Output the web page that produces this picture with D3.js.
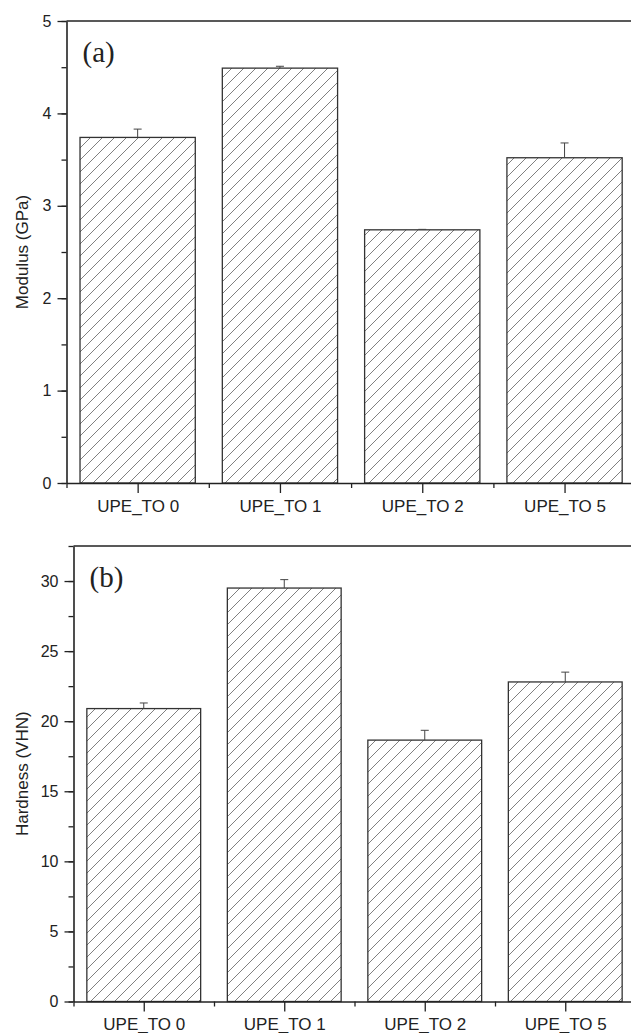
<!DOCTYPE html>
<html>
<head>
<meta charset="utf-8">
<script src="https://cdn.jsdelivr.net/npm/d3@7"></script>
<style>
  body { margin: 0; background: #fff; }
  svg { display: block; }
  .tick text { font-family: "Liberation Sans", Arial, sans-serif; font-size: 16px; fill: #222; }
</style>
</head>
<body>
<div id="chart"></div>
<script>
var samples = ["UPE_TO 0", "UPE_TO 1", "UPE_TO 2", "UPE_TO 5"];
var modulus = [3.74, 4.49, 2.74, 3.52];
var modulusErr = [0.09, 0.02, 0.005, 0.16];
var hardness = [20.9, 29.5, 18.65, 22.8];
var hardnessErr = [0.4, 0.6, 0.7, 0.7];

var width = 631;
var height = 1033;

var svg = d3.select("#chart")
  .append("svg")
  .attr("width", width)
  .attr("height", height);

// hatch pattern "/"
var pat = svg.append("defs").append("pattern")
  .attr("id", "hatch")
  .attr("patternUnits", "userSpaceOnUse")
  .attr("width", 12)
  .attr("height", 12);
pat.append("rect").attr("width", 12).attr("height", 12).attr("fill", "#fff");
pat.append("path")
  .attr("d", "M-3,3 L3,-3 M0,12 L12,0 M9,15 L15,9")
  .attr("stroke", "#808080")
  .attr("stroke-width", 1);

var panels = [
  { values: modulus, errs: modulusErr, label: "(a)", title: "Modulus (GPa)",
    left: 66.5, step: 142.3, top: 21, bottom: 483, ymax: 5, major: 1, minor: 0.5, labelY: 29 },
  { values: hardness, errs: hardnessErr, label: "(b)", title: "Hardness (VHN)",
    left: 73.5, step: 140.5, top: 546, bottom: 1001.5, ymax: 32.5, major: 5, minor: 2.5, labelY: 28 }
];

panels.forEach(drawPanel);

function drawPanel(p) {
  var g = svg.append("g");

  var x = d3.scaleLinear()
    .domain([0.5, 4.5])
    .range([p.left, p.left + 4 * p.step]);

  var y = d3.scaleLinear()
    .domain([0, p.ymax])
    .range([p.bottom, p.top]);

  var bw = p.step * 0.81;

  // bars
  g.selectAll("rect.bar")
    .data(p.values)
    .join("rect")
    .attr("class", "bar")
    .attr("x", (d, i) => x(i + 1) - bw / 2)
    .attr("y", d => y(d))
    .attr("width", bw)
    .attr("height", d => y(0) - y(d))
    .attr("fill", "url(#hatch)")
    .attr("stroke", "#333")
    .attr("stroke-width", 1.3);

  // error bars (upper only)
  var eg = g.selectAll("g.err")
    .data(p.values)
    .join("g")
    .attr("class", "err");
  eg.append("line")
    .attr("x1", (d, i) => x(i + 1))
    .attr("x2", (d, i) => x(i + 1))
    .attr("y1", d => y(d))
    .attr("y2", (d, i) => y(d + p.errs[i]))
    .attr("stroke", "#444")
    .attr("stroke-width", 1);
  eg.append("line")
    .attr("x1", (d, i) => x(i + 1) - 4)
    .attr("x2", (d, i) => x(i + 1) + 4)
    .attr("y1", (d, i) => y(d + p.errs[i]))
    .attr("y2", (d, i) => y(d + p.errs[i]))
    .attr("stroke", "#444")
    .attr("stroke-width", 1);

  // y axis minor ticks
  g.append("g")
    .attr("transform", `translate(${p.left},0)`)
    .call(d3.axisLeft(y).tickValues(d3.range(0, p.ymax + 0.001, p.minor)).tickSize(5).tickFormat(""))
    .call(a => a.select(".domain").remove())
    .call(a => a.selectAll("line").attr("stroke", "#222").attr("stroke-width", 1.3));

  // y axis major
  g.append("g")
    .attr("transform", `translate(${p.left},0)`)
    .call(d3.axisLeft(y)
      .tickValues(d3.range(0, Math.floor(p.ymax) + 0.001, p.major))
      .tickSize(9)
      .tickSizeOuter(0)
      .tickPadding(6)
      .tickFormat(d3.format("d")))
    .call(a => a.select(".domain").attr("stroke", "#222").attr("stroke-width", 1.6))
    .call(a => a.selectAll("line").attr("stroke", "#222").attr("stroke-width", 1.3));

  // x axis minor ticks
  g.append("g")
    .attr("transform", `translate(0,${p.bottom})`)
    .call(d3.axisBottom(x).tickValues([0.5, 1.5, 2.5, 3.5, 4.5]).tickSize(5).tickFormat(""))
    .call(a => a.select(".domain").remove())
    .call(a => a.selectAll("line").attr("stroke", "#222").attr("stroke-width", 1.3));

  // x axis major
  g.append("g")
    .attr("transform", `translate(0,${p.bottom})`)
    .call(d3.axisBottom(x)
      .tickValues([1, 2, 3, 4])
      .tickSize(10)
      .tickSizeOuter(0)
      .tickFormat((d, i) => samples[i]))
    .call(a => a.select(".domain").attr("stroke", "#222").attr("stroke-width", 1.6))
    .call(a => a.selectAll("line").attr("stroke", "#222").attr("stroke-width", 1.3))
    .call(a => a.selectAll("text").attr("y", p.labelY).attr("dy", null).style("font-size", "17px"));

  // top frame line
  g.append("line")
    .attr("x1", p.left)
    .attr("x2", x(4.5))
    .attr("y1", y(p.ymax))
    .attr("y2", y(p.ymax))
    .attr("stroke", "#222")
    .attr("stroke-width", 1.6);

  // panel label
  g.append("text")
    .attr("x", p.left + 16)
    .attr("y", p.top + 41)
    .style("font-family", "'Liberation Serif', 'Times New Roman', serif")
    .style("font-size", "29px")
    .attr("fill", "#222")
    .text(p.label);

  // y title
  g.append("text")
    .attr("transform", "rotate(-90)")
    .attr("x", -(p.top + p.bottom) / 2)
    .attr("y", 28)
    .attr("text-anchor", "middle")
    .style("font-family", "'Liberation Sans', Arial, sans-serif")
    .style("font-size", "17px")
    .attr("fill", "#222")
    .text(p.title);
}
</script>
</body>
</html>
